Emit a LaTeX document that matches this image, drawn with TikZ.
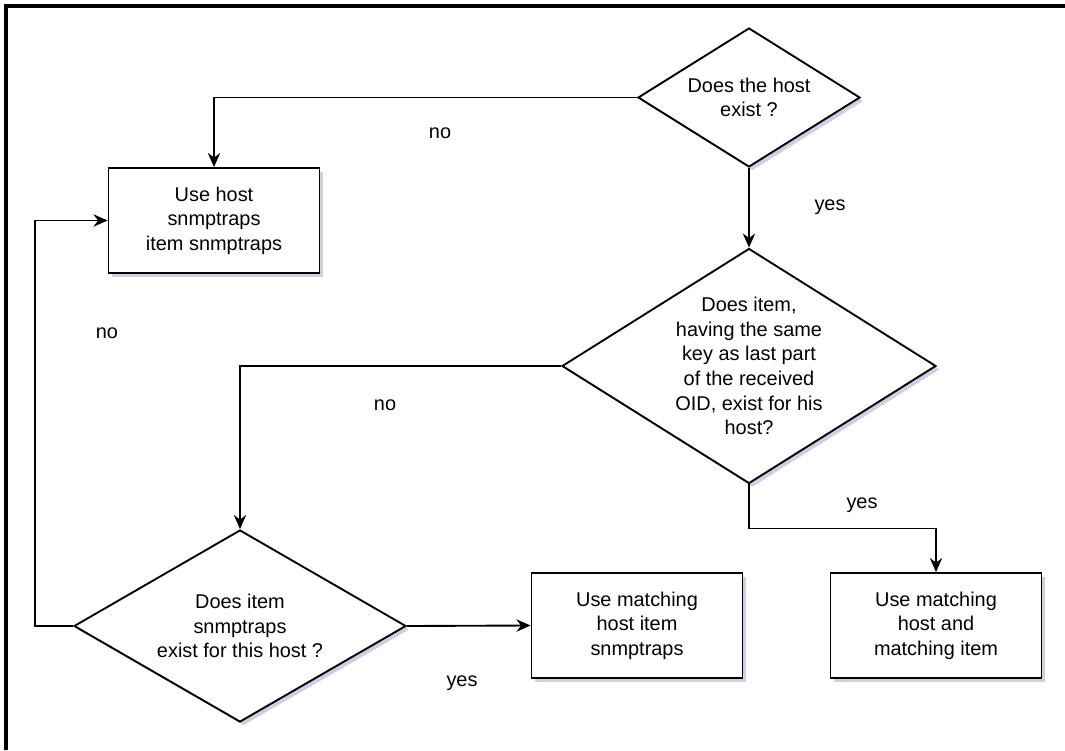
\documentclass[tikz,border=0pt]{standalone}
\usepackage{fontspec}
\setmainfont{Liberation Sans}
\usetikzlibrary{calc, positioning, shapes.geometric, arrows.meta, shadows}
\definecolor{shadowgray}{RGB}{184,186,216}
\tikzset{
  font=\fontsize{17pt}{21pt}\selectfont,
  % Set arrowhead
  >={Stealth[length=12pt, width=10.5pt]},
  % Soft shadow under nodes
  soft/.style={drop shadow={shadow xshift=3pt, shadow yshift=-3pt,
      fill=shadowgray, opacity=0.7}},
  % Decision node
  dnode/.style={draw, fill=white, shape=diamond, inner sep=0pt,
    align=center, line width=1.6pt, soft},
  % Action node
  bnode/.style={draw, fill=white, shape=rectangle, minimum width=63.3mm,
    minimum height=31.5mm, inner sep=0pt, align=center, line width=1.6pt, soft},
  % Arrows
  q->/.style={->, line width=1.6pt},
  % Branch labels
  lbl/.style={inner sep=0pt},
}

\begin{document}
\begin{tikzpicture}[x=0.3mm, y=-0.3mm]
  \useasboundingbox (0,0) rectangle (1065,750);
  \draw[line width=2.6pt] (6,750) -- (6,6) -- (1065,6);

  % questions
  \node[dnode, minimum width=66.6mm, minimum height=41.7mm, aspect=1.6]
    (hostq) at (749,97.5) {Does the host\\exist ?};
  \node[dnode, minimum width=112.2mm, minimum height=70.5mm, aspect=1.59,
    inner sep=-3pt] (itemq) at (749,366)
    {Does item,\\having the same\\key as last part\\of the received\\OID, exist for his\\host?};
  \node[dnode, minimum width=99.6mm, minimum height=57.6mm, aspect=1.73]
    (trapq) at (240,626) {Does item\\snmptraps\\exist for this host ?};

  % actions
  \node[bnode] (usehost) at (214,220.5) {Use host\\snmptraps\\item snmptraps};
  \node[bnode] (usetrap) at (637,625.5) {Use matching\\host item\\snmptraps};
  \node[bnode] (usematch) at (936,625.5) {Use matching\\host and\\matching item};

  \draw[q->] (hostq.west) -| (usehost.north);
  \draw[q->] (hostq.south) -- (itemq.north);
  \draw[q->] (itemq.west) -| (trapq.north);
  \draw[q->] (itemq.south) -- ++(0,44) -| (usematch.north);
  \draw[q->] (trapq.east) -- (usetrap.west);
  \draw[q->] (trapq.west) -- ++(-38,0) |- (usehost.west);

  \node[lbl] (no1) at (440,133) {no};
  \node[lbl] (yes1) at (830,207) {yes};
  \node[lbl] (no2) at (385,405) {no};
  \node[lbl] (yes2) at (862,505) {yes};
  \node[lbl] (yes3) at (462,683) {yes};
  \node[lbl] (no3) at (107,333) {no};
\end{tikzpicture}
\end{document}
